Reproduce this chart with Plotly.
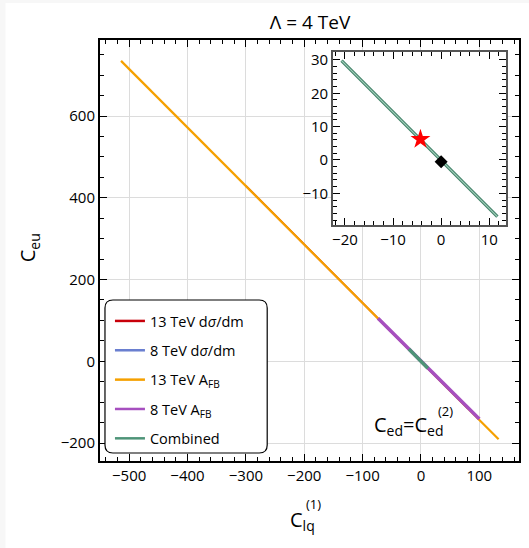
import plotly.graph_objects as go

# Allowed-region strips in the (C_lq^(1), C_eu) plane, Lambda = 4 TeV
sigma13_x = [-300.0, 80.0]
sigma13_y = [429.0, -115.0]
sigma8_x = [-30.0, 22.0]
sigma8_y = [43.0, -31.5]
afb13_x = [-514.0, 133.0]
afb13_y = [735.0, -191.0]
afb8_x = [-73.6, 100.0]
afb8_y = [105.0, -141.0]
comb_x = [-20.7, 11.7]
comb_y = [29.8, -17.0]

# Reference points shown in the zoomed panel
star_x, star_y = [-4.3], [6.2]
sm_x, sm_y = [0.0], [-0.5]

labels = ["13 TeV d<i>σ</i>/dm", "8 TeV d<i>σ</i>/dm", "13 TeV A<sub>FB</sub>",
          "8 TeV A<sub>FB</sub>", "Combined"]
colors = ["#c8000a", "#6a7fd0", "#f5a000", "#a64fbf", "#4e9478"]
widths = [1.8, 1.8, 2.2, 3.5, 3.5]

main_xticks = [-500, -400, -300, -200, -100, 0, 100]
main_yticks = [-200, 0, 200, 400, 600]
inset_xticks = [-20, -10, 0, 10]
inset_yticks = [-10, 0, 10, 20, 30]

FONT = "Open Sans"


def minus(v):
    return str(v).replace("-", "\u2212")


fig = go.Figure()

series = [(sigma13_x, sigma13_y), (sigma8_x, sigma8_y), (afb13_x, afb13_y),
          (afb8_x, afb8_y), (comb_x, comb_y)]
for (xs, ys), col, w in zip(series, colors, widths):
    fig.add_trace(go.Scatter(x=xs, y=ys, mode="lines", showlegend=False,
                             line=dict(color=col, width=w), hoverinfo="skip"))

# Legend keys, all drawn with the same stroke
for i, (lab, col) in enumerate(zip(labels, colors)):
    fig.add_trace(go.Scatter(x=[None], y=[None], mode="lines", name=lab,
                             legendgroup=f"g{i}",
                             line=dict(color=col, width=2.5), hoverinfo="skip"))

# Zoomed panel: combined strip drawn as an outlined band
fig.add_trace(go.Scatter(x=comb_x, y=comb_y, mode="lines", xaxis="x2", yaxis="y2",
                         line=dict(color="#3f7f66", width=3.3), showlegend=False,
                         hoverinfo="skip"))
fig.add_trace(go.Scatter(x=comb_x, y=comb_y, mode="lines", xaxis="x2", yaxis="y2",
                         line=dict(color="#a3d0bc", width=1.2), showlegend=False,
                         hoverinfo="skip"))
fig.add_trace(go.Scatter(x=star_x, y=star_y, mode="markers", xaxis="x2", yaxis="y2",
                         marker=dict(symbol="star", size=15, color="red",
                                     line=dict(width=0)),
                         showlegend=False, hoverinfo="skip"))
fig.add_trace(go.Scatter(x=sm_x, y=sm_y, mode="markers", xaxis="x2", yaxis="y2",
                         marker=dict(symbol="diamond", size=10, color="black",
                                     line=dict(width=0)),
                         showlegend=False, hoverinfo="skip"))

axis_common = dict(ticks="inside", mirror="allticks", showline=True,
                   tickcolor="black", zeroline=False)

fig.update_layout(
    width=529, height=548,
    margin=dict(l=100, r=8, t=40, b=87),
    paper_bgcolor="#f7f7f7", plot_bgcolor="white",
    font=dict(family=FONT, color="black"),
    title=dict(text="Λ = 4 TeV", x=310 / 529, xanchor="center",
               y=1 - 22 / 548, yanchor="middle",
               font=dict(family=FONT, size=19, color="black")),
    xaxis=dict(range=[-550, 168], tickvals=main_xticks,
               ticktext=[minus(v) for v in main_xticks],
               showgrid=True, gridcolor="#dcdcdc", gridwidth=1,
               linecolor="black", linewidth=2, ticklen=7, tickwidth=1.3,
               tickfont=dict(family=FONT, size=15, color="black"),
               minor=dict(dtick=20, ticklen=4, tickcolor="black", tickwidth=1,
                          showgrid=False, ticks="inside"),
               **axis_common),
    yaxis=dict(range=[-244, 786], tickvals=main_yticks,
               ticktext=[minus(v) for v in main_yticks],
               showgrid=True, gridcolor="#dcdcdc", gridwidth=1,
               linecolor="black", linewidth=2, ticklen=7, tickwidth=1.3,
               tickfont=dict(family=FONT, size=15, color="black"),
               minor=dict(dtick=50, ticklen=4, tickcolor="black", tickwidth=1,
                          showgrid=False, ticks="inside"),
               **axis_common),
    xaxis2=dict(domain=[(334 - 100) / 421, (508 - 100) / 421], anchor="y2",
                range=[-22.5, 13.5], tickvals=inset_xticks,
                ticktext=[minus(v) for v in inset_xticks], showgrid=False,
                linecolor="#555555", linewidth=1.5, ticklen=7, tickwidth=1.2,
                tickfont=dict(family=FONT, size=15, color="black"),
                minor=dict(dtick=2, ticklen=4, tickcolor="black", tickwidth=1,
                           showgrid=False, ticks="inside"),
                **axis_common),
    yaxis2=dict(domain=[(461 - 225) / 421, (461 - 52.3) / 421], anchor="x2",
                range=[-19.5, 32.3], tickvals=inset_yticks,
                ticktext=[minus(v) for v in inset_yticks], showgrid=False,
                linecolor="#555555", linewidth=1.5, ticklen=7, tickwidth=1.2,
                tickfont=dict(family=FONT, size=15, color="black"),
                minor=dict(dtick=2, ticklen=4, tickcolor="black", tickwidth=1,
                           showgrid=False, ticks="inside"),
                **axis_common),
    showlegend=True,
    legend=dict(x=(110 - 100) / 421, y=(461 - 305) / 421, xanchor="left",
                yanchor="top", bgcolor="rgba(0,0,0,0)", borderwidth=0,
                tracegroupgap=7.5, itemwidth=30,
                font=dict(family=FONT, size=14.5, color="black")),
)


def px_x(p):
    return (p - 100) / 421


def px_y(p):
    return (461 - p) / 421


# Page edge and the rounded legend frame
fig.add_shape(type="rect", xref="paper", yref="paper", layer="below",
              x0=px_x(5), x1=px_x(540), y0=px_y(560), y1=px_y(3),
              fillcolor="white", line=dict(width=0))
x0, x1, y0, y1, r = px_x(105), px_x(268), px_y(453), px_y(300), 8 / 421
path = (f"M {x0 + r},{y0} L {x1 - r},{y0} Q {x1},{y0} {x1},{y0 + r} "
        f"L {x1},{y1 - r} Q {x1},{y1} {x1 - r},{y1} L {x0 + r},{y1} "
        f"Q {x0},{y1} {x0},{y1 - r} L {x0},{y0 + r} Q {x0},{y0} {x0 + r},{y0} Z")
fig.add_shape(type="path", path=path, xref="paper", yref="paper", layer="above",
              fillcolor="white", line=dict(color="black", width=1.2))

# Axis titles
fig.add_annotation(text="C<sub>eu</sub>", xref="paper", yref="paper",
                   x=px_x(28), y=px_y(248), textangle=-90, showarrow=False,
                   xanchor="center", yanchor="middle",
                   font=dict(family=FONT, size=20, color="black"))
fig.add_annotation(text="C<sub>lq</sub>", xref="paper", yref="paper",
                   x=px_x(289), y=px_y(520), showarrow=False,
                   xanchor="left", yanchor="middle",
                   font=dict(family=FONT, size=20, color="black"))
fig.add_annotation(text="(1)", xref="paper", yref="paper",
                   x=px_x(305), y=px_y(504), showarrow=False,
                   xanchor="left", yanchor="middle",
                   font=dict(family=FONT, size=13, color="black"))

# Scenario label
fig.add_annotation(text="C<sub>ed</sub>=C<sub>ed</sub>", xref="paper", yref="paper",
                   x=px_x(373), y=px_y(425), showarrow=False,
                   xanchor="left", yanchor="middle",
                   font=dict(family=FONT, size=20, color="black"))
fig.add_annotation(text="(2)", xref="paper", yref="paper",
                   x=px_x(438), y=px_y(411), showarrow=False,
                   xanchor="left", yanchor="middle",
                   font=dict(family=FONT, size=13, color="black"))

fig.write_html("out.html")
